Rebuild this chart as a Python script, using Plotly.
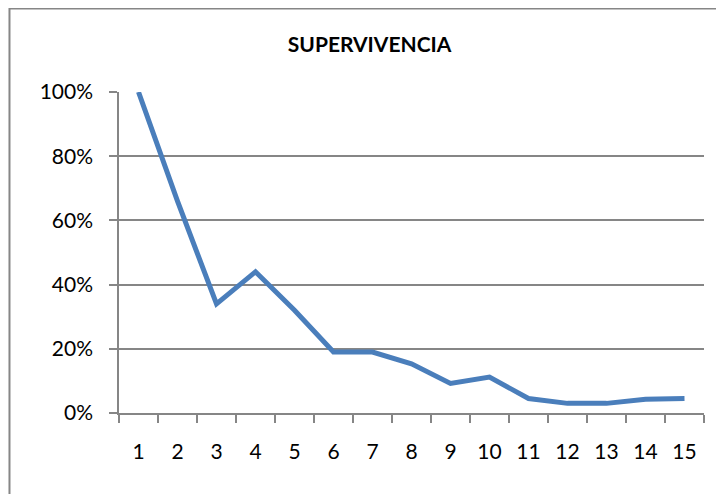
import plotly.graph_objects as go

# Survival by period
periods = [str(i) for i in range(1, 16)]
survival = [1.00, 0.66, 0.34, 0.44, 0.32, 0.19, 0.19, 0.153, 0.092,
            0.112, 0.045, 0.03, 0.03, 0.043, 0.045]
y_ticks = [0, 0.2, 0.4, 0.6, 0.8, 1.0]
y_labels = ['0%', '20%', '40%', '60%', '80%', '100%']

AXIS_GREY = '#868686'

fig = go.Figure()

fig.add_trace(go.Scatter(
    x=periods,
    y=survival,
    mode='lines',
    line=dict(color='#4a7ebb', width=5),
    hoverinfo='skip'
))

# page body adds an 8px offset, so the figure is sized down to fit the window
fig.update_layout(
    width=716,
    height=486,
    margin=dict(l=111, r=20, t=84, b=81),
    paper_bgcolor='white',
    plot_bgcolor='white',
    showlegend=False,
    font=dict(family='Lato', size=21, color='black'),
    title=dict(
        text='<b>SUPERVIVENCIA</b>',
        font=dict(family='Lato', size=21, color='black'),
        x=0.505, xanchor='center',
        y=0.924, yanchor='middle'
    ),
    xaxis=dict(
        type='category',
        range=[-0.5, 14.5],
        tickson='boundaries',
        ticks='outside',
        ticklen=8,
        tickwidth=1.5,
        tickcolor=AXIS_GREY,
        showline=True,
        linecolor=AXIS_GREY,
        linewidth=1.5,
        showgrid=False,
        ticklabelstandoff=19,
        fixedrange=True
    ),
    yaxis=dict(
        range=[0, 1],
        tickvals=y_ticks,
        ticktext=y_labels,
        ticks='outside',
        ticklen=8,
        tickwidth=1.5,
        tickcolor=AXIS_GREY,
        showline=True,
        linecolor=AXIS_GREY,
        linewidth=1.5,
        showgrid=True,
        gridcolor=AXIS_GREY,
        gridwidth=1.5,
        zeroline=False,
        ticklabelstandoff=12,
        fixedrange=True
    ),
    shapes=[dict(
        type='rect', xref='paper', yref='paper',
        x0=-0.1872, x1=1.08, y0=-0.35, y1=1.260,
        line=dict(color=AXIS_GREY, width=2),
        fillcolor='rgba(0,0,0,0)',
        layer='below'
    )]
)

fig.write_html("out.html", config=dict(displayModeBar=False))
